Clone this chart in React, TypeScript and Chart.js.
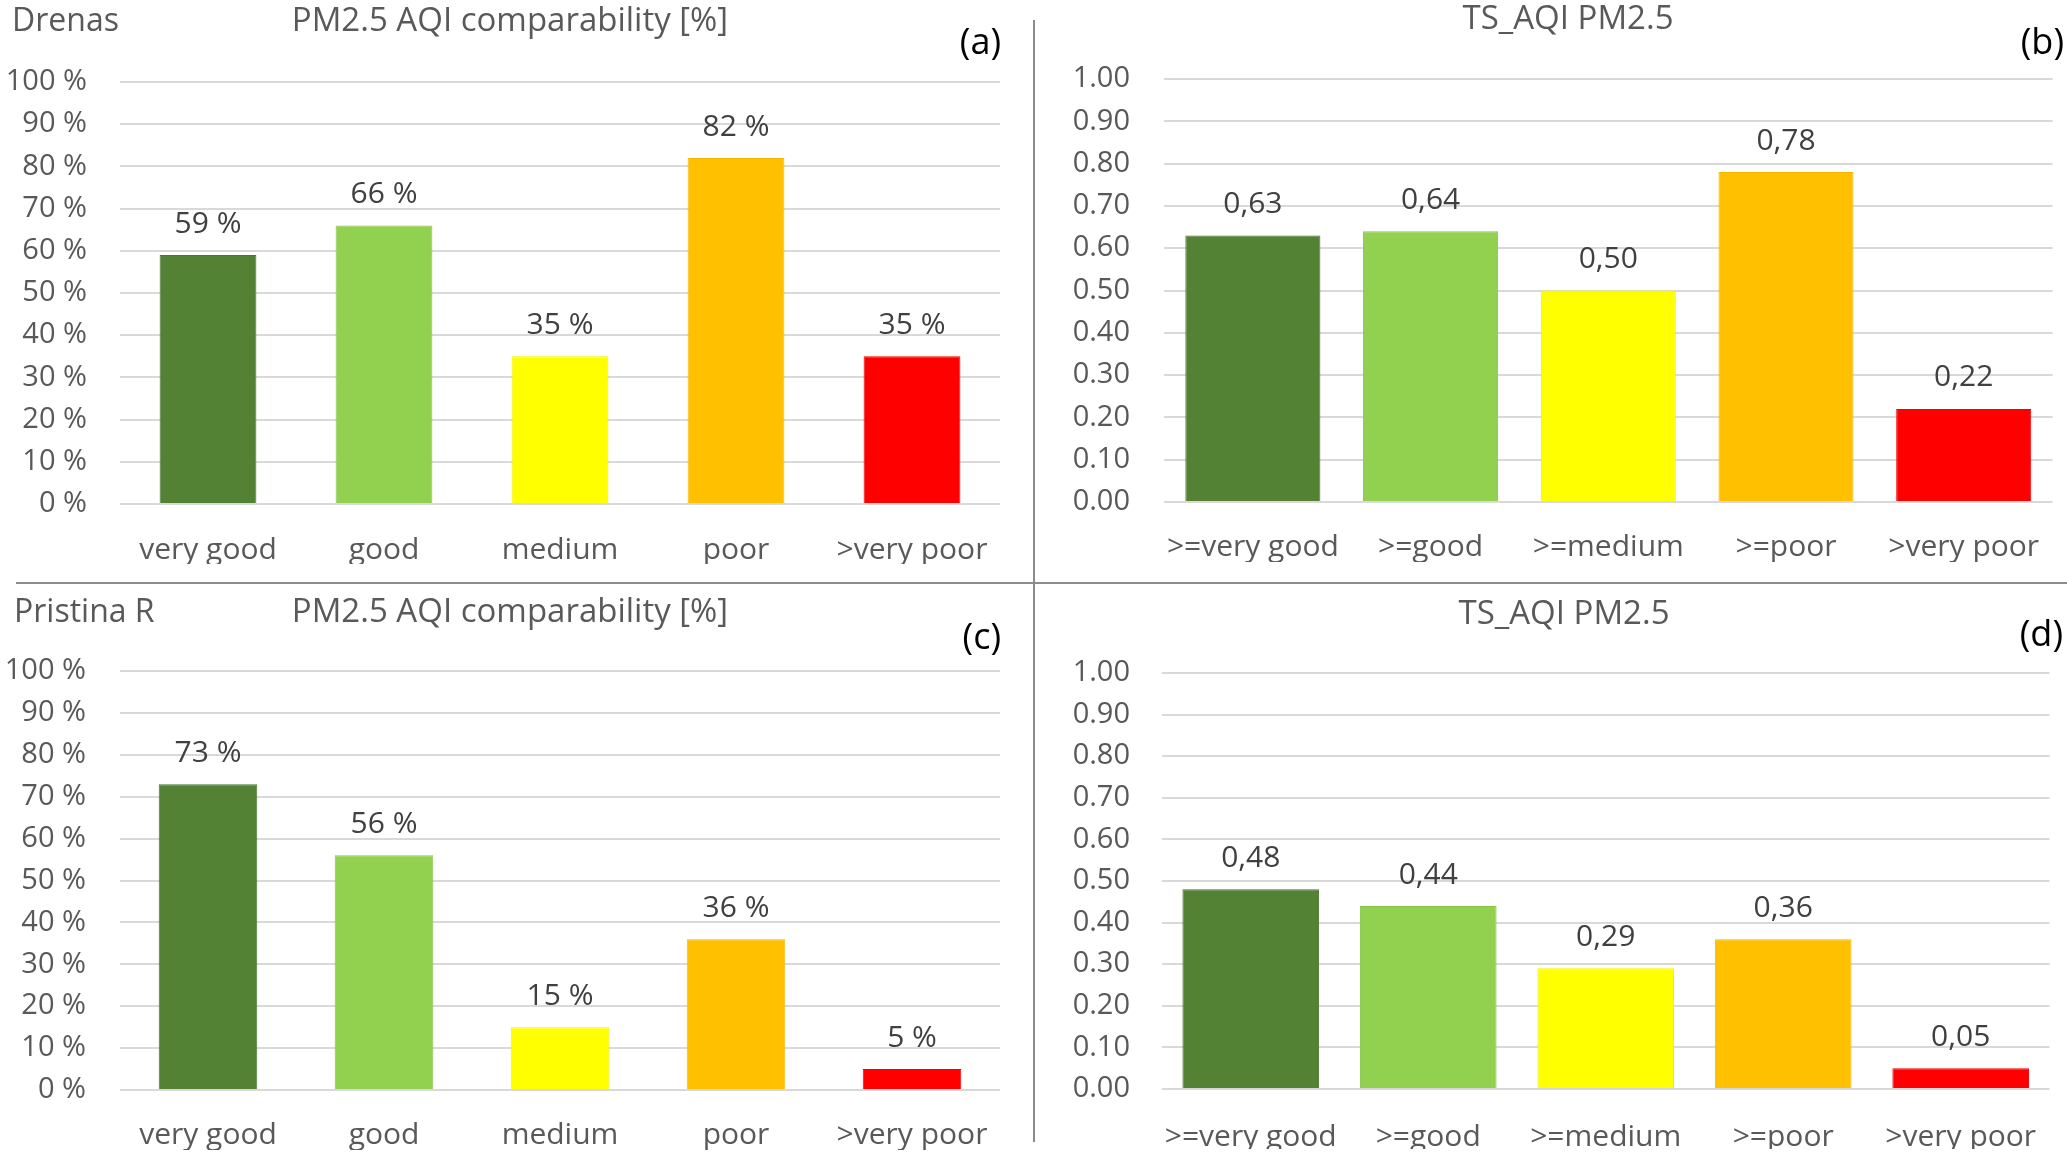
import React, { useEffect, useRef } from "react";
import { Chart, registerables } from "chart.js";

Chart.register(...registerables);

// ---- data ----
const categoriesAQI = ["very good", "good", "medium", "poor", ">very poor"];
const categoriesTS = [">=very good", ">=good", ">=medium", ">=poor", ">very poor"];
const drenasAQI = [59, 66, 35, 82, 35];
const drenasTS = [0.63, 0.64, 0.5, 0.78, 0.22];
const pristinaAQI = [73, 56, 15, 36, 5];
const pristinaTS = [0.48, 0.44, 0.29, 0.36, 0.05];
const barColors = ["#548235", "#92D050", "#FFFF00", "#FFC000", "#FF0000"];
const barBorders = ["#4a7530", "#88c447", "#f2f200", "#f5b800", "#f20000"];

const FONT = '"Open Sans", "Noto Sans", sans-serif';
const TEXT = "#595959";
const LABEL = "#404040";
const X_H = 60;

type TextItem = { text: string; x: number; y: number; align: CanvasTextAlign; size: number; color?: string };
type PanelCfg = {
  left: number;
  top: number;
  width: number;
  height: number;
  categories: string[];
  values: number[];
  kind: "pct" | "ts";
  area: { l: number; t: number; r: number; b: number };
  yPad: number;
  xPad: number;
  barPct: number;
  texts: TextItem[];
};

const panels: PanelCfg[] = [
  {
    left: 0, top: 0, width: 1034, height: 580,
    categories: categoriesAQI, values: drenasAQI, kind: "pct",
    area: { l: 120, t: 82, r: 1000, b: 504 }, yPad: 33, xPad: 28, barPct: 0.55,
    texts: [
      { text: "Drenas", x: 12, y: 22, align: "left", size: 32 },
      { text: "PM2.5 AQI comparability [%]", x: 510, y: 22, align: "center", size: 33 },
      { text: "(a)", x: 1001, y: 44, align: "right", size: 36, color: "#000000" },
    ],
  },
  {
    left: 1034, top: 0, width: 1033, height: 580,
    categories: categoriesTS, values: drenasTS, kind: "ts",
    area: { l: 130, t: 79, r: 1024, b: 502 }, yPad: 34, xPad: 27, barPct: 0.76,
    texts: [
      { text: "TS_AQI PM2.5", x: 534, y: 20, align: "center", size: 33 },
      { text: "(b)", x: 1030, y: 44, align: "right", size: 36, color: "#000000" },
    ],
  },
  {
    left: 0, top: 583, width: 1034, height: 571,
    categories: categoriesAQI, values: pristinaAQI, kind: "pct",
    area: { l: 120, t: 88, r: 1000, b: 507 }, yPad: 34, xPad: 27, barPct: 0.56,
    texts: [
      { text: "Pristina R", x: 14, y: 30, align: "left", size: 32 },
      { text: "PM2.5 AQI comparability [%]", x: 510, y: 30, align: "center", size: 33 },
      { text: "(c)", x: 1001, y: 56, align: "right", size: 36, color: "#000000" },
    ],
  },
  {
    left: 1034, top: 583, width: 1033, height: 571,
    categories: categoriesTS, values: pristinaTS, kind: "ts",
    area: { l: 128, t: 90, r: 1024, b: 506 }, yPad: 32, xPad: 30, barPct: 0.77,
    texts: [
      { text: "TS_AQI PM2.5", x: 530, y: 32, align: "center", size: 33 },
      { text: "(d)", x: 1029, y: 53, align: "right", size: 36, color: "#000000" },
    ],
  },
];

function Panel({ cfg }: { cfg: PanelCfg }) {
  const ref = useRef<HTMLCanvasElement | null>(null);
  useEffect(() => {
    if (!ref.current) return;
    const isPct = cfg.kind === "pct";
    const labelsPlugin = {
      id: "barLabels",
      afterDatasetsDraw(chart: any) {
        const ctx = chart.ctx;
        const meta = chart.getDatasetMeta(0);
        ctx.save();
        ctx.font = `30px ${FONT}`;
        ctx.fillStyle = LABEL;
        ctx.textAlign = "center";
        ctx.textBaseline = "middle";
        meta.data.forEach((bar: any, i: number) => {
          const v = cfg.values[i];
          const txt = isPct ? `${v} %` : v.toFixed(2).replace(".", ",");
          ctx.fillText(txt, bar.x, bar.y - 31);
        });
        ctx.restore();
      },
    };
    const textsPlugin = {
      id: "panelTexts",
      afterDraw(chart: any) {
        const ctx = chart.ctx;
        ctx.save();
        ctx.textBaseline = "middle";
        cfg.texts.forEach((t) => {
          ctx.fillStyle = t.color || TEXT;
          ctx.font = `${t.size}px ${FONT}`;
          ctx.textAlign = t.align;
          ctx.fillText(t.text, t.x, t.y);
        });
        ctx.restore();
      },
    };
    const chart = new Chart(ref.current, {
      type: "bar",
      data: {
        labels: cfg.categories,
        datasets: [
          {
            data: cfg.values,
            backgroundColor: barColors,
            borderColor: barBorders,
            borderWidth: 1,
            barPercentage: cfg.barPct,
            categoryPercentage: 1,
          },
        ],
      },
      options: {
        animation: false,
        responsive: false,
        devicePixelRatio: 1,
        layout: {
          padding: {
            left: 0,
            top: cfg.area.t,
            right: cfg.width - cfg.area.r,
            bottom: cfg.height - cfg.area.b - X_H,
          },
        },
        plugins: {
          legend: { display: false },
          tooltip: { enabled: false },
          title: { display: false },
        },
        scales: {
          x: {
            grid: { display: false, drawTicks: false },
            border: { display: false },
            ticks: {
              padding: cfg.xPad,
              font: { family: FONT, size: 30 },
              color: TEXT,
              maxRotation: 0,
              autoSkip: false,
            },
            afterFit: (s: any) => {
              s.height = X_H;
            },
          },
          y: {
            min: 0,
            max: isPct ? 100 : 1,
            ticks: {
              stepSize: isPct ? 10 : 0.1,
              padding: cfg.yPad,
              font: { family: FONT, size: 29 },
              color: TEXT,
              callback: (v: any) => (isPct ? `${Math.round(Number(v))} %` : Number(v).toFixed(2)),
            },
            grid: { color: "#d9d9d9", lineWidth: 2, drawTicks: false },
            border: { display: false },
            afterFit: (s: any) => {
              s.width = cfg.area.l;
            },
          },
        },
      } as any,
      plugins: [labelsPlugin, textsPlugin],
    });
    return () => chart.destroy();
  }, [cfg]);
  return (
    <canvas
      ref={ref}
      width={cfg.width}
      height={cfg.height}
      style={{
        position: "absolute",
        left: cfg.left,
        top: cfg.top,
        width: cfg.width,
        height: cfg.height,
      }}
    />
  );
}

export default function App() {
  return (
    <div
      style={{
        position: "absolute",
        left: 0,
        top: 0,
        width: 2067,
        height: 1154,
        background: "#ffffff",
        overflow: "hidden",
      }}
    >
      {panels.map((p, i) => (
        <Panel key={i} cfg={p} />
      ))}
      <div
        style={{
          position: "absolute",
          left: 1033,
          top: 20,
          width: 2,
          height: 1122,
          background: "#8c8c8c",
        }}
      />
      <div
        style={{
          position: "absolute",
          left: 16,
          top: 582,
          width: 2051,
          height: 2,
          background: "#8c8c8c",
        }}
      />
    </div>
  );
}
